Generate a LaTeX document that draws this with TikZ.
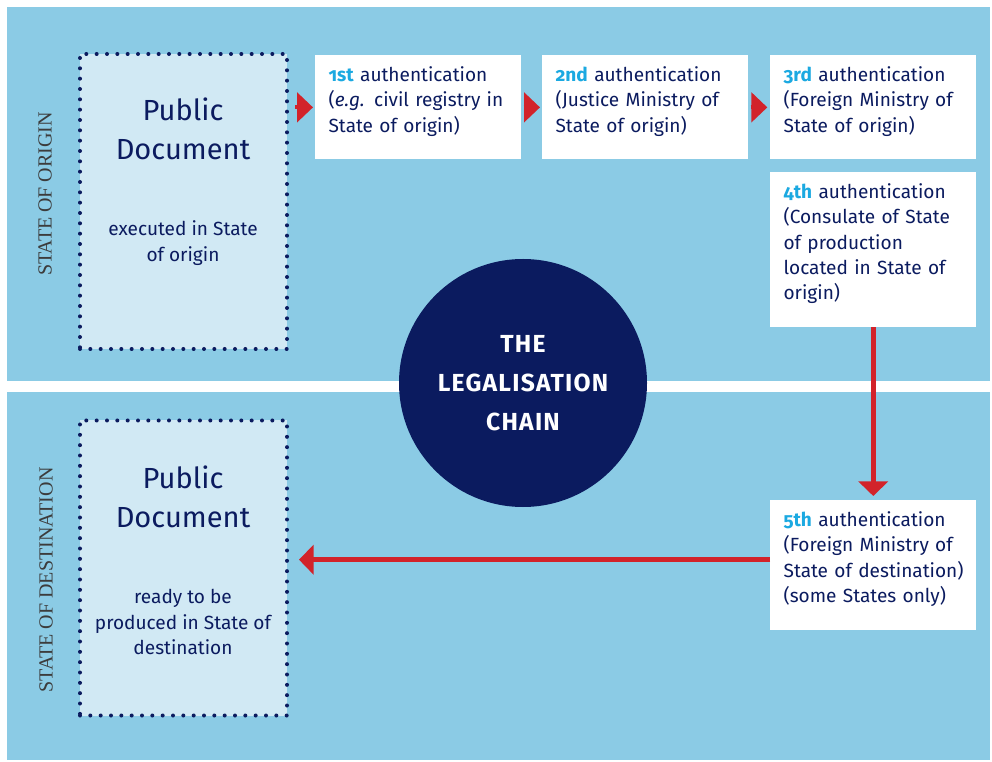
\documentclass[tikz,border=0pt]{standalone}
\usepackage{fontspec}
\setmainfont{Fira Sans}[Numbers=OldStyle]
\newfontfamily\sidefont{Liberation Serif}
\usetikzlibrary{arrows.meta,positioning}
\definecolor{bgblue}{HTML}{8BCBE5}
\definecolor{docfill}{HTML}{D1E9F4}
\definecolor{navy}{HTML}{0B1B5F}
\definecolor{chainred}{HTML}{D2232A}
\definecolor{ordcyan}{HTML}{1BA9E1}
\definecolor{sidegray}{HTML}{3C3C3C}
\newcommand{\ordn}[1]{{\bfseries\addfontfeature{Numbers=OldStyle}\color{ordcyan}#1}}
\tikzset{
  authbox/.style={fill=white,anchor=north west,text=navy,
    font=\fontsize{14.3}{19}\selectfont,align=left,
    text width=134.5pt,inner xsep=10pt,inner ysep=8.5pt,
    execute at end node={\rule[-12pt]{0pt}{1pt}}},
  docbox/.style={fill=docfill,draw=navy,line width=3pt,
    dash pattern=on 0pt off 7.75pt,line cap=round,
    minimum width=155.25pt,minimum height=221.25pt},
  doctitle/.style={text=navy,align=center,font=\fontsize{21.8}{29}\selectfont},
  docsub/.style={text=navy,align=center,font=\fontsize{14.3}{19}\selectfont},
  sidelabel/.style={rotate=90,text=sidegray,font=\sidefont\fontsize{15}{17}\selectfont},
  linkarrow/.style={draw=chainred,line width=3pt,-{Triangle[length=12pt,width=22pt]}},
  flowarrow/.style={draw=chainred,line width=3.75pt,-{Triangle[length=11pt,width=22pt]}}
}
\begin{document}
\begin{tikzpicture}[x=0.75pt,y=-0.75pt]
  \useasboundingbox (0,0) rectangle (992,762);
  % the two states
  \fill[bgblue] (7,7) rectangle (990,381);
  \fill[bgblue] (7,392) rectangle (990,760);
  \node[sidelabel] (origlbl) at (45,194) {STATE OF ORIGIN};
  \node[sidelabel] (destlbl) at (46,580) {STATE OF DESTINATION};

  % public documents
  \node[docbox] (orig) at (183.5,201.5) {};
  \node[doctitle] (origtitle) at (183,129) {Public\\Document};
  \node[docsub] (origsub) at (183,243) {executed in State\\of origin};
  \node[docbox] (dest) at (183.5,568) {};
  \node[doctitle] (desttitle) at (183,497) {Public\\Document};
  \node[docsub] (destsub) at (183,622) {ready to be\\produced in State of\\destination};

  % authentications
  \node[authbox] (auth1) at (315,55)
    {\ordn{1st} authentication\\(\textit{e.g.} civil registry in\\State of origin)};
  \node[authbox] (auth2) at (542,55)
    {\ordn{2nd} authentication\\(Justice Ministry of\\State of origin)};
  \node[authbox] (auth3) at (770,55)
    {\ordn{3rd} authentication\\(Foreign Ministry of\\State of origin)};
  \node[authbox] (auth4) at (770,172)
    {\ordn{4th} authentication\\(Consulate of State\\of production\\located in State of\\origin)};
  \node[authbox] (auth5) at (770,500)
    {\ordn{5th} authentication\\(Foreign Ministry of\\\mbox{State of destination)}\\(some States only)};

  \node[circle,fill=navy,minimum size=186pt,text=white,align=center,
    font=\bfseries\fontsize{18.5}{29}\selectfont\addfontfeature{LetterSpace=5}] (chain) at (523,383)
    {THE\\LEGALISATION\\CHAIN};

  % the chain
  \draw[linkarrow,shorten <=4.5pt,shorten >=1.5pt] (auth1.west -| orig.east) -- (auth1.west);
  \draw[linkarrow,shorten <=1.5pt,shorten >=1.5pt] (auth1.east) -- (auth2.west);
  \draw[linkarrow,shorten <=1.5pt,shorten >=2pt] (auth2.east) -- (auth3.west);
  \draw[flowarrow,shorten >=3pt] (auth4.south) -- (auth5.north);
  \draw[flowarrow,shorten >=7.5pt] ([yshift=4pt]auth5.west) -- ([yshift=4pt]auth5.west -| dest.east);
\end{tikzpicture}
\end{document}
